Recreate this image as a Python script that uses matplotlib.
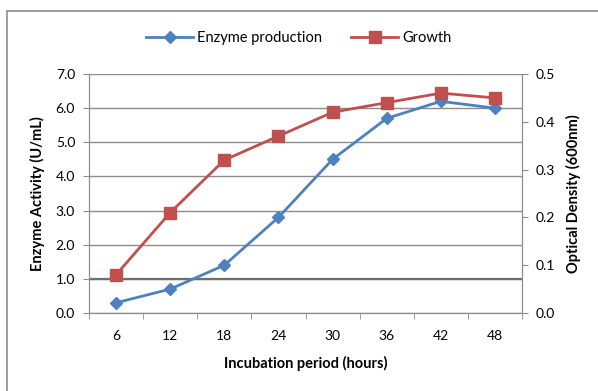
import numpy as np
import matplotlib
matplotlib.use("Agg")
import matplotlib.pyplot as plt
from matplotlib.patches import Rectangle

# data
hours = ["6", "12", "18", "24", "30", "36", "42", "48"]
enzyme = [0.3, 0.7, 1.4, 2.8, 4.5, 5.7, 6.2, 6.0]           # U/mL
growth = [0.08, 0.21, 0.32, 0.37, 0.42, 0.44, 0.46, 0.45]   # OD 600nm

plt.rcParams['font.family'] = ['Lato', 'DejaVu Sans']

blue = '#4F81BD'
red = '#C0504D'
grey = '#8C8C8C'

fig = plt.figure(figsize=(5.98, 3.91), dpi=100)
fig.patches.append(Rectangle((7 / 598, -0.1), 1.2, (391 - 11) / 391 + 0.1,
                             transform=fig.transFigure, fill=False,
                             edgecolor=grey, linewidth=1.2))

ax = fig.add_axes([89 / 598, 78 / 391, 433 / 598, 239 / 391])
ax2 = ax.twinx()

x = np.arange(len(hours))

l1, = ax.plot(x, enzyme, color=blue, lw=2, marker='D', ms=6.5,
              label='Enzyme production', zorder=3)
l2, = ax2.plot(x, growth, color=red, lw=2, marker='s', ms=8.5,
               label='Growth', zorder=3)

ax.set_xlim(-0.5, len(hours) - 0.5)
ax.set_ylim(0, 7)
ax2.set_ylim(0, 0.5)
ax.set_yticks(np.arange(0, 7.1, 1))
ax.set_yticklabels([f"{v:.1f}" for v in np.arange(0, 7.1, 1)])
ax2.set_yticks(np.arange(0, 0.51, 0.1))
ax2.set_yticklabels([f"{v:.1f}" for v in np.arange(0, 0.51, 0.1)])

ax.set_xticks(x)
ax.set_xticklabels(hours)
ax.set_xticks(np.arange(-0.5, len(hours), 1), minor=True)
ax.tick_params(axis='x', which='major', length=0, pad=12, labelsize=10)
ax.tick_params(axis='x', which='minor', length=4, color=grey)
ax.tick_params(axis='y', length=4, color=grey, labelsize=10, pad=6)
ax2.tick_params(axis='y', length=4, color=grey, labelsize=10, pad=6)

ax.grid(axis='y', color='#8C8C8C', lw=1)
ax.set_axisbelow(True)
ax.axhline(1.0, color='#6E6E6E', lw=1.6, zorder=1)

for a in (ax, ax2):
    a.spines['top'].set_visible(False)
    for s in ('left', 'right', 'bottom'):
        a.spines[s].set_color(grey)

ax.set_xlabel('Incubation period (hours)', fontweight='bold', fontsize=10.5, labelpad=10)
ax.set_ylabel('Enzyme Activity (U/mL)', fontweight='bold', fontsize=10.5, labelpad=8)
ax2.set_ylabel('Optical Density (600nm)', fontweight='bold', fontsize=10.5, labelpad=8)

fig.legend(handles=[l1, l2], loc='center', bbox_to_anchor=(0.5, 1 - 38 / 391),
           ncol=2, frameon=False, fontsize=10.5, handlelength=3.2,
           columnspacing=2.0, handletextpad=0.3)

fig.savefig('out.png', dpi=100)
